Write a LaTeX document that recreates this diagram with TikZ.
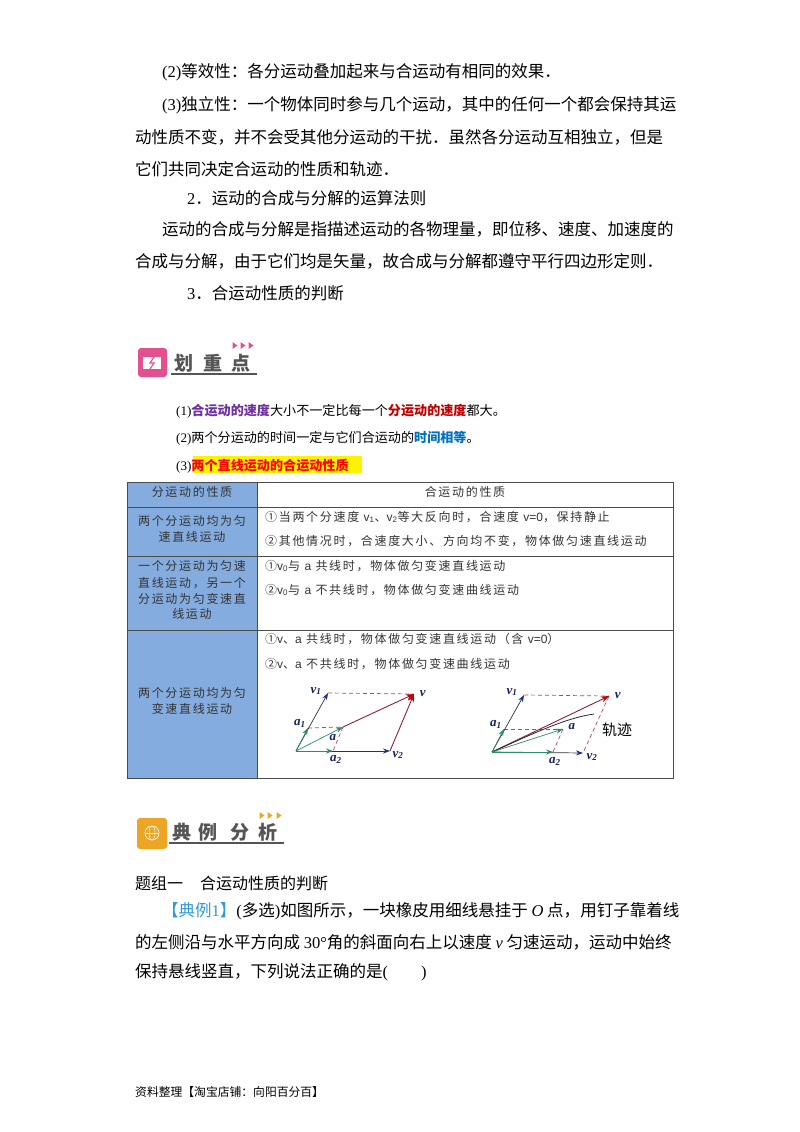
\documentclass[tikz,border=0pt]{standalone}
\usepackage{fontspec}
\setmainfont{Noto Sans CJK SC}
\newfontfamily\latfont{Liberation Serif}
\newfontfamily\tablat{Liberation Sans}
\newfontfamily\tabzh[LetterSpace=14]{Noto Sans CJK SC}
\usetikzlibrary{arrows.meta}
\definecolor{headblue}{HTML}{84ACDF}
\definecolor{gridgray}{HTML}{4A4A4A}
\definecolor{tabtext}{HTML}{333333}
\definecolor{notepurple}{HTML}{7030A0}
\definecolor{notered}{HTML}{C00000}
\definecolor{noteblue}{HTML}{0070C0}
\definecolor{linkblue}{HTML}{2E9BD6}
\definecolor{iconpink}{HTML}{E2508F}
\definecolor{iconorange}{HTML}{EDA526}
\definecolor{titlegray}{HTML}{555555}
\definecolor{vecgreen}{HTML}{2E8B6A}
\definecolor{vecred}{HTML}{8E1F3C}
\definecolor{vecblue}{HTML}{1F2F7F}
\definecolor{dashred}{HTML}{C2405F}
\newcommand{\lat}[1]{{\latfont #1}}
\newcommand{\tv}[1]{{\tablat v\textsubscript{#1}}}
\newcommand{\tl}[1]{{\tablat #1}}
\newcommand{\vlab}[2]{{\latfont\bfseries\itshape #1\textsubscript{#2}}}
\tikzset{
  bodyline/.style={anchor=west, inner sep=0pt, font=\fontsize{16.5}{20}\selectfont},
  noteline/.style={anchor=west, inner sep=0pt, font=\fontsize{13.1}{16}\selectfont},
  footline/.style={anchor=west, inner sep=0pt, font=\fontsize{11.8}{14}\selectfont},
  leftcell/.style={inner sep=0pt, text=tabtext, font=\fontsize{12}{14}\tabzh\selectfont},
  rightcell/.style={anchor=west, inner sep=0pt, text=tabtext, font=\fontsize{12}{14}\tabzh\selectfont},
  titlechar/.style={inner sep=0pt, text=titlegray, font=\fontsize{19}{22}\selectfont\bfseries},
  veclabel/.style={inner sep=0pt, text=vecblue!70!black, font=\fontsize{13}{15}\selectfont},
  greenvec/.style={vecgreen, line width=0.7pt, -{Stealth[length=7pt,width=5pt]}},
  blackvec/.style={black!80, line width=0.7pt, -{Stealth[length=7pt,width=5pt,color=vecblue]}},
  redvec/.style={vecred, line width=0.9pt, -{Stealth[length=8pt,width=6pt,color=notered]}},
  dashvec/.style={dashred, line width=0.7pt, dashed, dash pattern=on 4pt off 3pt},
}
\begin{document}
\begin{tikzpicture}[x=1pt, y=-1pt]
\useasboundingbox (0,0) rectangle (800,1132);
\fill[white] (0,0) rectangle (800,1132);

\node (line1) [bodyline] at (162,72) {\lat{(2)}等效性：各分运动叠加起来与合运动有相同的效果．};
\node (line2) [bodyline] at (162,105) {\lat{(3)}独立性：一个物体同时参与几个运动，其中的任何一个都会保持其运};
\node (line3) [bodyline] at (135,137) {动性质不变，并不会受其他分运动的干扰．虽然各分运动互相独立，但是};
\node (line4) [bodyline] at (135,169) {它们共同决定合运动的性质和轨迹．};
\node (line5) [bodyline] at (187,198) {\lat{2}．运动的合成与分解的运算法则};
\node (line6) [bodyline] at (162,229) {运动的合成与分解是指描述运动的各物理量，即位移、速度、加速度的};
\node (line7) [bodyline] at (135,261) {合成与分解，由于它们均是矢量，故合成与分解都遵守平行四边形定则．};
\node (line8) [bodyline] at (187,293) {\lat{3}．合运动性质的判断};

% first heading
\fill[iconpink, rounded corners=3pt] (138,348) rectangle (167,377);
\fill[white] (143,357) rectangle (161,369);
\fill[iconpink] (161,360) rectangle (163,366);
\draw[iconpink, line width=1.2pt] (156,354) -- (150,363) -- (154,363) -- (148,372);
\node (mark1) [titlechar] at (184,363) {划};
\node (mark2) [titlechar] at (213,363) {重};
\node (mark3) [titlechar] at (241,363) {点};
\draw[titlegray, line width=1.2pt] (171,374) -- (257,374);
\foreach \x in {235,243,251} \fill[iconpink] (\x-2.5,342) -- (\x+2.5,345.5) -- (\x-2.5,349) -- cycle;

\node (note1) [noteline] at (176,411) {\lat{(1)}\textcolor{notepurple}{\bfseries 合运动的速度}大小不一定比每一个\textcolor{notered}{\bfseries 分运动的速度}都大。};
\node (note2) [noteline] at (176,438) {\lat{(2)}两个分运动的时间一定与它们合运动的\textcolor{noteblue}{\bfseries 时间相等}。};
\fill[yellow] (193,456) rectangle (362,473);
\node (note3) [noteline] at (176,466) {\lat{(3)}\textcolor{red}{\bfseries 两个直线运动的合运动性质}};

% table
\fill[headblue] (127,482) rectangle (257,778);
\draw[gridgray, line width=0.9pt] (127,482) rectangle (673.5,778);
\draw[gridgray, line width=0.9pt] (257,482) -- (257,778);
\foreach \y in {507,556,630} \draw[gridgray, line width=0.9pt] (127,\y) -- (673.5,\y);

\node (headl) [leftcell] at (192,492) {分运动的性质};
\node (headr) [leftcell] at (465,492) {合运动的性质};
\node (rowa1) [leftcell] at (192,521) {两个分运动均为匀};
\node (rowa2) [leftcell] at (192,537) {速直线运动};
\node (rowb1) [leftcell] at (192,566) {一个分运动为匀速};
\node (rowb2) [leftcell] at (192,583) {直线运动，另一个};
\node (rowb3) [leftcell] at (192,599) {分运动为匀变速直};
\node (rowb4) [leftcell] at (192,614) {线运动};
\node (rowc1) [leftcell] at (192,693) {两个分运动均为匀};
\node (rowc2) [leftcell] at (192,709) {变速直线运动};

\node (texta1) [rightcell] at (265,517) {①当两个分速度 \tv{1}、\tv{2}等大反向时，合速度 \tl{v=0}，保持静止};
\node (texta2) [rightcell] at (265,541) {②其他情况时，合速度大小、方向均不变，物体做匀速直线运动};
\node (textb1) [rightcell] at (265,566) {①\tv{0}与 \tl{a} 共线时，物体做匀变速直线运动};
\node (textb2) [rightcell] at (265,590) {②\tv{0}与 \tl{a} 不共线时，物体做匀变速曲线运动};
\node (textc1) [rightcell] at (265,639) {①\tl{v}、\tl{a} 共线时，物体做匀变速直线运动（含 \tl{v=0}）};
\node (textc2) [rightcell] at (265,664) {②\tl{v}、\tl{a} 不共线时，物体做匀变速曲线运动};

% left vector figure
\coordinate (lo) at (296,751);
\coordinate (lvone) at (328,693);
\coordinate (lv) at (414,694);
\coordinate (lvtwo) at (390,751);
\coordinate (laone) at (308,728);
\coordinate (la) at (343,727);
\coordinate (latwo) at (333,751);
\draw[dashvec] (lvone) -- (lv);
\draw[dashvec] (laone) -- (la);
\draw[dashvec] (la) -- (latwo);
\draw[blackvec] (lo) -- (lvone);
\draw[blackvec] (lo) -- (lvtwo);
\draw[redvec] (la) -- (lv);
\draw[redvec] (lvtwo) -- (lv);
\draw[greenvec] (lo) -- (laone);
\draw[greenvec] (lo) -- (la);
\draw[greenvec] (lo) -- (latwo);
\node (lvonetext) [veclabel] at (316,691) {\vlab{v}{1}};
\node (lvtext) [veclabel] at (423,694) {\vlab{v}{}};
\node (lvtwotext) [veclabel] at (398,755) {\vlab{v}{2}};
\node (laonetext) [veclabel] at (300,723) {\vlab{a}{1}};
\node (latext) [veclabel] at (333,738) {\vlab{a}{}};
\node (latwotext) [veclabel] at (336,759) {\vlab{a}{2}};

% right vector figure
\coordinate (ro) at (492,752);
\coordinate (rvone) at (524,695);
\coordinate (rv) at (609,696);
\coordinate (rvtwo) at (583,753);
\coordinate (raone) at (504,729);
\coordinate (ra) at (563,729);
\coordinate (ratwo) at (553,752);
\coordinate (rpath) at (594,714);
\draw[dashvec] (rvone) -- (rv);
\draw[dashvec] (rv) -- (rvtwo);
\draw[dashvec] (raone) -- (ra);
\draw[dashvec] (ra) -- (ratwo);
\draw[blackvec] (ro) -- (rvone);
\draw[blackvec] (ro) -- (rvtwo);
\draw[redvec] (ro) -- (rv);
\draw[black!85, line width=0.8pt] (ro) .. controls (530,735) and (565,718) .. (rpath);
\draw[greenvec] (ro) -- (raone);
\draw[greenvec] (ro) -- (ra);
\draw[greenvec] (ro) -- (ratwo);
\node (rvonetext) [veclabel] at (512,692) {\vlab{v}{1}};
\node (rvtext) [veclabel] at (618,696) {\vlab{v}{}};
\node (rvtwotext) [veclabel] at (592,757) {\vlab{v}{2}};
\node (raonetext) [veclabel] at (496,724) {\vlab{a}{1}};
\node (ratext) [veclabel] at (572,727) {\vlab{a}{}};
\node (ratwotext) [veclabel] at (555,761) {\vlab{a}{2}};
\node (rpathtext) [inner sep=0pt, font=\fontsize{15}{18}\selectfont] at (617,730) {轨迹};

% second heading
\fill[iconorange, rounded corners=3pt] (137,818) rectangle (167,849);
\draw[white, line width=0.6pt] (152,833) circle (7);
\draw[white, line width=0.5pt] (152,833) ellipse (3 and 7);
\draw[white, line width=0.5pt] (145,833) -- (159,833);
\node (markb1) [titlechar] at (182,832) {典};
\node (markb2) [titlechar] at (208,832) {例};
\node (markb3) [titlechar] at (240,832) {分};
\node (markb4) [titlechar] at (268,832) {析};
\draw[titlegray, line width=1.2pt] (169,843) -- (284,843);
\foreach \x in {262,270,279} \fill[iconorange] (\x-2.5,812) -- (\x+2.5,815.5) -- (\x-2.5,819) -- cycle;

\node (group) [bodyline, font=\fontsize{16}{20}\selectfont] at (135,883) {题组一\hspace{17pt}合运动性质的判断};
\node (ex1) [bodyline] at (162,911) {\textcolor{linkblue}{【典例\lat{1}】}\lat{(}多选\lat{)}如图所示，一块橡皮用细线悬挂于 \lat{\itshape O} 点，用钉子靠着线};
\node (ex2) [bodyline] at (135,942) {的左侧沿与水平方向成 \lat{30°}角的斜面向右上以速度 \lat{\itshape v} 匀速运动，运动中始终};
\node (ex3) [bodyline] at (135,972) {保持悬线竖直，下列说法正确的是\lat{(}\hspace{33pt}\lat{)}};
\node (foot) [footline] at (135,1092) {资料整理【淘宝店铺：向阳百分百】};
\end{tikzpicture}
\end{document}
